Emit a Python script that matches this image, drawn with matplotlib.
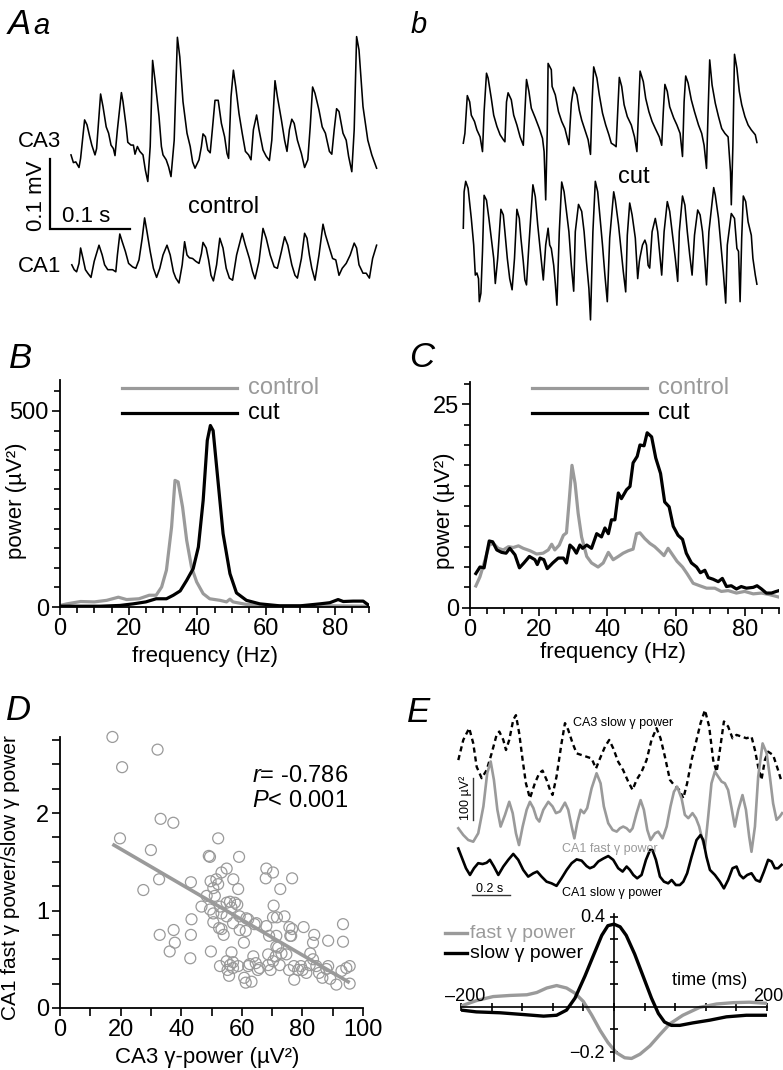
import numpy as np
import matplotlib
matplotlib.use('Agg')
import matplotlib.pyplot as plt
from matplotlib.ticker import MultipleLocator, FixedLocator

plt.rcParams['font.family'] = ['Liberation Sans', 'DejaVu Sans']
plt.rcParams['mathtext.fontset'] = 'custom'
plt.rcParams['mathtext.rm'] = 'Liberation Sans'
plt.rcParams['mathtext.it'] = 'Liberation Sans:italic'

# ---------------- data ----------------
# Panel A: raw traces (time ms, voltage uV)
ca3_ctrl_t = [0,3,6,10,12,17,20,23,26,30,32,37,40,44,47,50,53,55,58,63,65,69,71,75,78,80,83,86,90,93,
              96,99,102,105,110,113,115,119,122,125,129,133,136,140,145,149,152,155,160,163,165,168,171,174,177,180,184,188,192,195,
              197,200,203,206,210,214,218,222,225,228,232,235,240,244,248,251,255,258,263,267,270,273,276,279,283,288,292,296,299,302,
              305,310,314,318,323,326,329,332,335,340,344,347,351,354,357,360,365,371,376,382]
ca3_ctrl_v = [12,1,2,-6,7,62,55,40,26,12,21,99,81,52,43,26,21,11,48,101,88,52,30,26,26,13,24,17,12,-10,
              -26,24,147,119,67,24,12,5,-5,-19,33,180,152,88,43,24,2,-7,5,24,42,38,19,15,52,90,90,57,38,14,
              7,95,133,109,71,43,17,12,5,48,69,48,19,10,4,33,118,95,62,33,17,48,63,57,33,14,-6,5,52,109,
              100,76,52,43,17,13,48,78,74,43,33,10,-12,48,181,162,81,33,12,-7]
ca1_ctrl_t = [1,4,7,10,12,15,18,21,25,29,35,39,42,46,52,56,58,61,64,68,72,77,81,85,89,92,95,99,103,107,
              111,115,120,124,128,131,135,139,142,145,148,152,156,160,163,165,169,172,175,178,182,186,190,194,198,202,207,214,218,223,
              227,230,235,240,244,249,254,258,263,267,271,276,280,283,288,292,295,298,301,305,310,315,318,323,327,331,335,339,344,349,
              354,357,360,365,369,373,377,382]
ca1_ctrl_v = [5,-2,-5,7,29,14,-2,-7,-13,10,33,19,5,-2,-2,-5,19,49,38,24,7,2,0,12,43,72,52,24,0,-13,
              0,19,33,19,-5,-14,-21,5,38,19,15,14,10,7,21,37,29,12,-10,-18,5,43,29,0,-14,-17,19,50,33,14,
              -5,-15,10,57,43,19,2,0,24,45,33,5,-10,-14,14,50,43,19,0,-17,19,63,48,29,14,12,-10,0,7,19,
              36,29,5,-7,-7,-14,14,33]
ca3_cut_t = [0,2,5,8,10,14,17,21,24,26,29,31,35,38,42,46,50,52,54,56,60,63,67,71,75,77,79,82,85,90,
             95,99,101,103,105,106,110,111,115,119,123,127,130,132,135,138,142,145,148,152,156,159,161,163,167,170,174,178,182,185,
             189,191,193,195,198,201,205,210,214,217,220,221,225,228,232,236,240,245,248,250,252,255,258,263,267,271,274,276,278,281,
             285,289,294,298,301,304,306,308,311,315,319,323,327,331,334,335,337,339,342,345,348,352,356,360,365,367]
ca3_cut_v = [-7,7,61,52,33,24,12,2,-19,38,93,86,57,33,17,5,-2,-5,52,65,55,33,19,2,-10,38,84,67,43,29,
             14,0,-19,-88,14,107,98,74,62,38,24,14,0,-9,50,73,62,40,26,12,-2,-23,52,102,86,62,36,19,5,-7,
             -10,-12,38,87,74,48,31,19,2,-19,67,96,81,57,38,24,14,2,-10,38,77,67,45,29,19,7,-26,52,89,79,
             55,38,19,7,-10,-43,38,112,76,50,31,14,7,2,-48,-95,-10,120,100,67,48,31,19,12,5,-6]
ca1_cut_t = [0,1,3,6,10,13,15,17,19,20,22,24,26,29,32,35,38,40,43,47,50,52,55,58,61,64,67,70,72,75,
             77,79,82,87,90,93,96,98,100,103,106,108,110,113,115,117,120,123,126,129,132,135,138,140,144,148,151,154,157,159,
             162,165,168,171,174,177,180,183,188,190,194,197,200,203,205,208,211,215,218,220,221,224,227,229,231,233,236,240,243,246,
             248,251,255,258,261,265,268,270,274,277,280,283,286,289,293,296,299,302,304,307,313,315,319,322,325,328,330,335,339,342,
             344,346,348,350,353,356,360,362,365,367]
ca1_cut_v = [43,95,110,100,57,19,-24,-21,-29,-62,-50,10,90,83,57,29,0,-36,0,70,62,38,0,-29,-45,0,70,57,29,-5,
             -31,-38,19,105,88,48,14,-10,-31,19,43,19,14,-10,-36,-67,38,109,95,67,38,-10,-47,38,77,67,38,-5,-43,-88,
             38,110,95,57,19,-24,-62,29,95,83,48,14,-19,-48,33,79,62,29,-29,-5,2,19,26,19,-10,-14,38,57,38,0,
             -24,38,81,67,38,0,-33,38,89,76,38,5,-24,33,69,62,38,-5,-38,38,101,90,57,19,-19,-64,19,64,57,14,
             10,-62,29,89,81,52,33,0,-24,-37]

# Panel B: CA3 power spectra
b_ctrl_f = [0,2,6,10,13.6,17,19.4,23,26,28,29.6,31,32.5,33.5,34.4,35.7,36.9,38.3,39.8,41.7,43.6,46.6,48.5,49.5,50.4,54,60,70,79.5,90]
b_ctrl_p = [4,8,14,13,17,25,19,21,30,30,51,94,204,323,319,255,170,102,64,34,21,17,13,20,13,7,3,3,3,2]
b_cut_f = [0,11.6,17.5,21.3,25,28,31,33,35,36.9,38.8,40.3,41.7,42.9,43.8,44.6,46,47.5,49.5,51.4,54.3,58.2,64,70,75.7,78.6,81,82.5,85.4,88.3,90]
b_cut_p = [2,2,4,8,13,21,21,30,41,68,98,153,272,425,463,450,323,187,85,36,17,8,3,3,8,11,19,14,15,15,4]

# Panel C: CA1 power spectra
c_ctrl_f = [1.7,2.9,4.4,5.6,6.8,8.2,9.7,11.2,12.6,14.1,15.5,17.5,19.4,21.3,22.8,23.8,24.7,26,27.2,28.1,28.9,29.7,30.6,31.5,32.5,
            34,35.4,37.3,38.8,40.3,41.7,43.2,44.6,46.1,47.5,48.5,49.5,50.9,52.4,53.8,55.3,56.5,57.7,59,60.3,61.9,63.2,65,66.9,68.9,
            71.3,73.2,75.2,77.6,80,82.5,84.9,87.3,90]
c_ctrl_p = [2.67,3.8,5.9,7.7,7.9,7.3,7.1,7.5,7.4,7.6,7.3,7.0,6.6,6.7,7.1,7.8,7.1,7.7,8.9,9.2,13.2,17.5,15.3,11.6,8.7,
            6.3,5.5,5.0,5.5,6.8,5.9,6.3,6.7,7.0,7.2,9.1,9.2,8.5,7.9,7.5,6.9,6.4,7.3,6.5,5.7,5.0,4.2,3.0,2.7,2.4,
            2.4,2.0,2.1,1.8,2.0,1.7,1.8,1.6,1.3]
c_cut_f = [1.7,2.9,4.1,4.9,5.6,6.6,7.8,9.2,10.5,11.6,13.1,14.4,15.7,17.3,18.9,19.6,20.4,21.5,22.5,24.1,25.7,27.2,28.1,29.1,30.1,
           31,32,32.8,34,35.4,36.9,38.3,39.3,40.3,41.2,42.2,43.2,44.1,45.6,46.6,47.5,48.7,49.5,50.7,51.6,52.9,54.1,55.5,56.7,58,
           59.2,60.6,61.9,63,64.5,66,67.1,68.4,69.4,70.8,72.3,73.5,74.7,76.1,77.6,79,80.5,82.5,83.6,84.9,86.3,87.8,89.2,90]
c_cut_p = [4.2,5.0,4.9,6.7,8.2,8.1,7.1,6.8,6.7,7.3,6.5,4.9,5.5,6.3,5.9,5.3,6.1,5.9,4.8,5.5,6.1,6.1,5.5,7.7,7.3,
           6.7,7.7,7.3,7.7,7.3,9.1,8.7,9.8,9.1,10.8,10.8,14.1,13.4,14.5,14.9,17.8,18.6,20.0,19.9,21.5,21.0,18.4,16.5,13.0,12.4,
           10.0,8.9,8.4,6.7,5.5,5.0,4.3,4.6,3.7,3.5,3.2,3.6,2.6,2.7,2.3,2.6,2.4,2.5,2.7,2.3,1.8,1.8,2.0,2.1]

# Panel D: scatter
d_x = [17.3,32.2,20.5,33.2,37.4,19.8,30,52.2,49.1,49.5, 59.1,32.7,27.5,43.2,53.3,55.0,57.2,49.7,50.6,52.2,
       58.8,48.4,51.1,46.7,49.5,50.6,52.8,55,56.1,57.7, 58.5,56.6,53.3,55,61.5,43.4,62.1,64.8,68.1,70.3,
       67.9,76.6,72.7,70.5,74.1,70.3,52.5,53.3,54.0,59.3, 61.3,68.1,69,71.4,76.6,76,80.4,83.9,88.5,93.4,
       93.4,32.9,37.5,37.9,36.2,43.2,43.0,49.8,56.6,60.7, 52.8,55.3,56.1,55.8,58.8,57.1,60.8,61.3,63.2,62.6,
       65.9,65.3,64.6,68.7,69.5,68.7,70.3,71.2,72,71.4, 72.5,73.1,74.7,75.6,77.3,77.2,78.6,79.5,80.0,81.3,
       82.4,82.6,83.5,84.6,85.5,86.6,87.9,88.5,89.2,91.2, 94.5,95.6,95.6,92.9,83.5,76.3,75.7,63.8,62.1,57.1,
       55,64.2,59.3,57.1,50.6,71.6,51.6]
d_y = [2.78,2.65,2.47,1.94,1.90,1.74,1.62,1.74,1.56,1.55, 1.55,1.32,1.21,1.29,1.39,1.43,1.32,1.30,1.23,1.27,
       1.22,1.15,1.15,1.04,1.01,0.97,1.04,1.08,1.09,1.08, 1.06,1.03,0.97,0.94,0.92,0.91,0.91,0.87,1.43,1.39,
       1.33,1.33,1.22,1.05,0.94,0.93,0.82,0.81,0.75,0.80, 0.79,0.84,0.74,0.74,0.81,0.74,0.83,0.75,0.69,0.86,
       0.68,0.75,0.80,0.67,0.58,0.75,0.51,0.58,0.57,0.67, 0.43,0.39,0.44,0.33,0.43,0.47,0.31,0.26,0.27,0.45,
       0.41,0.39,0.46,0.44,0.39,0.55,0.48,0.53,0.62,0.63, 0.44,0.56,0.55,0.39,0.29,0.43,0.39,0.43,0.39,0.36,
       0.44,0.56,0.67,0.43,0.36,0.31,0.40,0.43,0.30,0.24, 0.41,0.43,0.25,0.38,0.50,0.74,0.83,0.53,0.43,0.41,
       0.48,0.86,0.94,0.87,0.88,0.93,1.32]
d_fit_x = [17.3, 95.6]
d_fit_y = [1.68, 0.26]

# Panel E top: power envelopes (time ms, power uV^2)
e_ca3_t = [0,26,57,78,96,122,148,174,200,214,235,249,266,287,301,318,336,353,374,400,
           423,440,461,479,492,513,539,557,574,597,618,644,670,696,719,740,766,788,809,835,
           861,887,910,931,957,983,1009,1035,1056,1079,1105,1126,1154,1175,1195,1218,1244,1265,1288,1310,
           1331,1349,1366,1387,1409,1432,1453,1479,1505,1531,1549,1566,1583,1601,1618,1644,1670,1688]
e_ca3_p = [95,143,171,135,79,52,71,111,155,163,143,119,143,191,202,159,95,40,4,40,
           64,70,48,24,12,56,135,183,167,135,111,107,103,99,75,99,127,143,123,91,
           71,44,24,48,67,95,143,171,147,103,48,36,24,4,40,95,143,183,214,175,
           95,67,119,187,175,147,155,151,147,151,119,79,48,95,115,107,71,44]
e_fast_t = [0,26,52,78,104,131,151,169,186,204,221,244,266,284,301,317,336,357,374,392,
            409,423,444,470,492,510,531,557,574,592,606,621,639,656,673,696,722,743,760,783,
            806,827,844,861,879,896,910,931,952,969,987,1004,1027,1044,1067,1088,1108,1126,1143,1166,
            1183,1201,1223,1241,1258,1275,1288,1305,1322,1340,1357,1375,1392,1409,1427,1444,1462,1484,1502,1519,
            1531,1549,1566,1589,1610,1627,1644,1662,1679,1691]
e_fast_p = [12,-4,-16,-20,0,64,143,171,127,56,16,44,75,48,0,-28,16,56,75,60,
            36,28,56,75,64,48,52,73,56,16,-12,24,56,48,60,107,143,119,64,24,
            8,4,12,16,12,4,12,48,79,56,8,-16,0,4,-12,16,64,99,111,83,
            44,36,48,36,16,-16,-36,40,119,147,135,123,119,103,60,16,56,91,56,-8,
            -44,16,135,214,191,135,71,32,40,48]
e_slow_t = [0,17,40,61,82,104,127,148,165,186,209,235,261,287,313,339,365,392,412,435,
            461,487,513,539,566,592,618,644,670,687,708,731,757,783,809,835,858,879,896,914,
            934,957,980,1001,1014,1032,1053,1074,1096,1114,1136,1157,1175,1195,1218,1244,1265,1279,1296,1314,
            1340,1366,1387,1409,1432,1453,1470,1488,1509,1531,1554,1575,1596,1618,1636,1653,1670,1688]
e_slow_p = [91,71,44,28,44,56,54,57,64,48,28,48,64,78,64,40,24,32,36,24,
            12,8,2,20,40,56,65,62,49,44,48,60,67,73,64,44,36,48,40,28,
            20,28,64,87,87,64,24,12,8,16,4,4,12,32,71,111,123,111,71,40,
            28,12,-4,16,44,48,28,20,28,32,16,12,36,64,60,44,44,52]

# Panel E bottom: cross-correlation
xc_slow_t = [-200,-180,-149,-118,-92,-75,-62,-51,-38,-27,-16,-8,0,8,16,27,38,49,58,66,75,86,103,125,147,173,200]
xc_slow = [-0.015,-0.023,-0.027,-0.035,-0.042,-0.038,-0.015,0.038,0.136,0.227,0.317,0.36,0.367,0.355,0.317,0.234,
           0.136,0.038,-0.03,-0.068,-0.083,-0.083,-0.072,-0.06,-0.045,-0.038,-0.038]
xc_fast_t = [-200,-180,-158,-136,-114,-101,-88,-75,-62,-51,-40,-29,-18,-8,3,14,23,34,47,60,73,90,112,134,156,177,200]
xc_fast = [0.003,0.027,0.045,0.05,0.053,0.063,0.083,0.094,0.083,0.06,0.023,-0.038,-0.106,-0.159,-0.204,-0.227,
           -0.23,-0.211,-0.174,-0.124,-0.076,-0.038,-0.003,0.012,0.018,0.02,0.015]

# ---------------- layout helpers ----------------
W, H = 783, 1070
GRAY = '#9a9a9a'
fig = plt.figure(figsize=(W / 100, H / 100), dpi=100)


def rect(l, t, r, b):
    return [l / W, 1 - b / H, (r - l) / W, (b - t) / H]


def ftext(x, y, s, **kw):
    kw.setdefault('va', 'baseline')
    fig.text(x / W, 1 - y / H, s, **kw)


def style_axes(ax):
    for s in ('top', 'right'):
        ax.spines[s].set_visible(False)
    for s in ('left', 'bottom'):
        ax.spines[s].set_linewidth(1.3)
    ax.tick_params(which='both', direction='out', width=1.2, labelsize=17, pad=2)
    ax.tick_params(which='major', length=6)
    ax.tick_params(which='minor', length=4.5)


# ---------------- panel A ----------------
MS_PER_PX = 100 / 80.0
UV_PER_PX = 100 / 70.0
axA = fig.add_axes(rect(0, 0, W, 335))
axA.set_xlim(0, W * MS_PER_PX)
axA.set_ylim(-335 * UV_PER_PX, 0)
axA.axis('off')
traces = [
    (ca3_ctrl_t, ca3_ctrl_v, 71, 163.3),
    (ca1_ctrl_t, ca1_ctrl_v, 71, 268.3),
    (ca3_cut_t, ca3_cut_v, 463.3, 138.3),
    (ca1_cut_t, ca1_cut_v, 463.3, 258.3),
]
for t, v, x0, y0 in traces:
    axA.plot(np.asarray(t) + x0 * MS_PER_PX, np.asarray(v) - y0 * UV_PER_PX,
             color='black', lw=1.15, solid_joinstyle='round')
sbx, sby = 50 * MS_PER_PX, -229.3 * UV_PER_PX
axA.plot([sbx, sbx, sbx + 100], [sby + 100, sby, sby], color='black', lw=1.6,
         solid_joinstyle='miter')

ftext(8, 34, 'A', fontsize=25, style='italic')
ftext(33, 34, 'a', fontsize=21, style='italic')
ftext(411, 33, 'b', fontsize=21, style='italic')
ftext(18, 147, 'CA3', fontsize=16)
ftext(18, 272, 'CA1', fontsize=16)
ftext(188, 213, 'control', fontsize=17)
ftext(62, 222, '0.1 s', fontsize=16)
ftext(36, 196, '0.1 mV', fontsize=16, rotation=90, ha='center', va='center')
ftext(618, 183, 'cut', fontsize=17)

# ---------------- panel B ----------------
axB = fig.add_axes(rect(60, 607 - 578 / 2.551, 369, 607))
style_axes(axB)
axB.plot(b_ctrl_f, b_ctrl_p, color=GRAY, lw=2.3, solid_joinstyle='round')
axB.plot(b_cut_f, b_cut_p, color='black', lw=2.3, solid_joinstyle='round')
axB.set_xlim(0, 90)
axB.set_ylim(0, 578)
axB.xaxis.set_major_locator(FixedLocator([0, 20, 40, 60, 80]))
axB.xaxis.set_minor_locator(MultipleLocator(5))
axB.yaxis.set_major_locator(FixedLocator([0, 500]))
axB.yaxis.set_minor_locator(MultipleLocator(50))
axB.set_xlabel('frequency (Hz)', fontsize=16)
axB.set_ylabel('power (µV²)', fontsize=16)
axB.xaxis.set_label_coords(0.47, -0.172)
axB.yaxis.set_label_coords(-0.107, 0.47)
for yy, col, lab in [(0.966, GRAY, 'control'), (0.857, 'black', 'cut')]:
    axB.plot([0.2, 0.572], [yy, yy], transform=axB.transAxes, color=col, lw=2.3, clip_on=False)
    axB.text(0.608, yy, lab, transform=axB.transAxes, color=col, fontsize=17, va='center')
ftext(9, 368, 'B', fontsize=25, style='italic')

# ---------------- panel C ----------------
axC = fig.add_axes(rect(470, 607.7 - 27.8 * 8.136, 779, 607.7))
style_axes(axC)
axC.plot(c_ctrl_f, c_ctrl_p, color=GRAY, lw=2.3, solid_joinstyle='round')
axC.plot(c_cut_f, c_cut_p, color='black', lw=2.3, solid_joinstyle='round')
axC.set_xlim(0, 90)
axC.set_ylim(0, 27.8)
axC.xaxis.set_major_locator(FixedLocator([0, 20, 40, 60, 80]))
axC.xaxis.set_minor_locator(MultipleLocator(5))
axC.yaxis.set_major_locator(FixedLocator([0, 25]))
axC.yaxis.set_minor_locator(MultipleLocator(2.5))
axC.set_xlabel('frequency (Hz)', fontsize=16)
axC.set_ylabel('power (µV²)', fontsize=16)
axC.xaxis.set_label_coords(0.463, -0.15)
axC.yaxis.set_label_coords(-0.05, 0.43)
for yy, col, lab in [(0.971, GRAY, 'control'), (0.863, 'black', 'cut')]:
    axC.plot([0.2, 0.572], [yy, yy], transform=axC.transAxes, color=col, lw=2.3, clip_on=False)
    axC.text(0.608, yy, lab, transform=axC.transAxes, color=col, fontsize=17, va='center')
ftext(409, 367, 'C', fontsize=25, style='italic')

# ---------------- panel D ----------------
axD = fig.add_axes(rect(60, 1008 - 2.78 * 97.5, 363, 1008))
style_axes(axD)
axD.scatter(d_x, d_y, s=62, facecolors='none', edgecolors=GRAY, linewidths=0.9, zorder=2,
            clip_on=False)
axD.plot(d_fit_x, d_fit_y, color=GRAY, lw=2.6, zorder=3, solid_capstyle='butt')
axD.set_xlim(0, 100)
axD.set_ylim(0, 2.78)
axD.xaxis.set_major_locator(MultipleLocator(20))
axD.xaxis.set_minor_locator(MultipleLocator(10))
axD.yaxis.set_major_locator(FixedLocator([0, 1, 2]))
axD.yaxis.set_minor_locator(MultipleLocator(0.25))
axD.tick_params(which='minor', length=5.5)
axD.set_xlabel('CA3 γ-power (µV²)', fontsize=16)
axD.set_ylabel('CA1 fast γ power/slow γ power', fontsize=15)
axD.xaxis.set_label_coords(0.485, -0.145)
axD.yaxis.set_label_coords(-0.132, 0.48)
ftext(252, 782, r'$\mathit{r}$= -0.786', fontsize=17)
ftext(252, 807, r'$\mathit{P}$< 0.001', fontsize=17)
ftext(6, 720, 'D', fontsize=25, style='italic')

# ---------------- panel E top ----------------
T_PER_PX = 200 / 38.3
P_PER_PX = 100 / 42.0
axE1 = fig.add_axes(rect(450, 700, W, 905))
axE1.set_xlim((450 - 458.3) * T_PER_PX, (W - 458.3) * T_PER_PX)
axE1.set_ylim((900 - 905) * P_PER_PX, (900 - 700) * P_PER_PX)
axE1.axis('off')
axE1.plot(e_ca3_t, np.asarray(e_ca3_p) + (900 - 800) * P_PER_PX, color='black', lw=1.7,
          linestyle=(0, (2.2, 1.6)))
axE1.plot(e_fast_t, np.asarray(e_fast_p) + (900 - 833.3) * P_PER_PX, color=GRAY, lw=1.9,
          solid_joinstyle='round')
axE1.plot(e_slow_t, np.asarray(e_slow_p) + (900 - 886.7) * P_PER_PX, color='black', lw=1.9,
          solid_joinstyle='round')
hx0 = (471.7 - 458.3) * T_PER_PX
hy0 = (900 - 895) * P_PER_PX
axE1.plot([hx0, hx0 + 200], [hy0, hy0], color='#333333', lw=1.0)
vx0 = (472.7 - 458.3) * T_PER_PX
vy0 = (900 - 820) * P_PER_PX
axE1.plot([vx0, vx0], [vy0, vy0 + 100], color='#333333', lw=1.0)
ftext(466, 798, '100 µV²', fontsize=9, rotation=90, ha='center', va='center')
ftext(490, 892, '0.2 s', fontsize=9, ha='center')
ftext(623, 726, 'CA3 slow γ power', fontsize=9, ha='center')
ftext(610, 852, 'CA1 fast γ power', fontsize=9, ha='center', color=GRAY)
ftext(612, 896, 'CA1 slow γ power', fontsize=9, ha='center')
ftext(407, 722, 'E', fontsize=25, style='italic')

# ---------------- panel E bottom ----------------
axE2 = fig.add_axes(rect(461, 1006.7 - 0.41 * 225, 767, 1006.7 + 0.24 * 225))
axE2.plot(xc_fast_t, xc_fast, color=GRAY, lw=2.4, solid_joinstyle='round')
axE2.plot(xc_slow_t, xc_slow, color='black', lw=2.4, solid_joinstyle='round')
axE2.set_xlim(-200, 200)
axE2.set_ylim(-0.24, 0.41)
axE2.patch.set_visible(False)
for s in ('top', 'right'):
    axE2.spines[s].set_visible(False)
axE2.spines['left'].set_position(('data', 0))
axE2.spines['bottom'].set_position(('data', 0))
axE2.spines['left'].set_linewidth(1.2)
axE2.spines['bottom'].set_linewidth(1.2)
axE2.xaxis.set_major_locator(MultipleLocator(40))
axE2.yaxis.set_major_locator(FixedLocator([-0.2, -0.1, 0.1, 0.2, 0.3, 0.4]))
axE2.tick_params(direction='inout', length=6, width=1.2, labelbottom=False, labelleft=False)
ftext(445, 1001, '–200', fontsize=13)
ftext(783, 1001, '200', fontsize=13, ha='right')
ftext(605, 918, '0.4', fontsize=13, ha='right', va='center')
ftext(605, 1053, '−0.2', fontsize=13, ha='right', va='center')
ftext(672, 985, 'time (ms)', fontsize=13)
for yy, col, lab in [(933, GRAY, 'fast γ power'), (953, 'black', 'slow γ power')]:
    fig.add_artist(plt.Line2D([445 / W, 467 / W], [1 - yy / H, 1 - yy / H], color=col, lw=2.4))
    ftext(470, yy, lab, fontsize=14, color=col, va='center')

fig.savefig('out.png', dpi=100)
